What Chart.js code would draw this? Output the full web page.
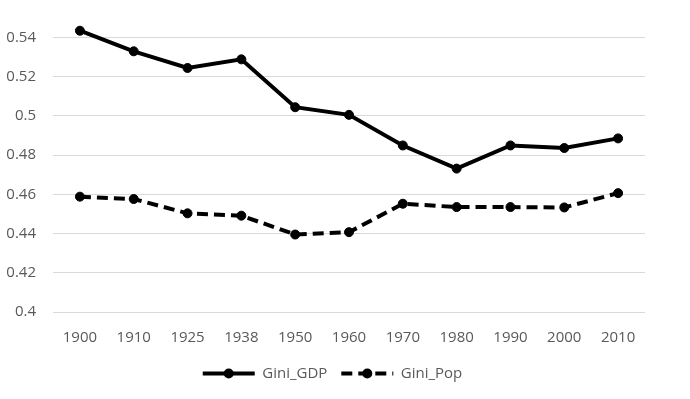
<!DOCTYPE html>
<html>
<head>
<meta charset="utf-8">
<script src="https://cdn.jsdelivr.net/npm/chart.js@4"></script>
<style>
  html, body { margin: 0; padding: 0; background: #fff; }
  #wrap { width: 690px; height: 399px; }
</style>
</head>
<body>
<div id="wrap"><canvas id="canGini"></canvas></div>
<script>
const years = ['1900', '1910', '1925', '1938', '1950', '1960', '1970', '1980', '1990', '2000', '2010']
const giniGdp = [0.5434, 0.5329, 0.5244, 0.5288, 0.5044, 0.5005, 0.4849, 0.4731, 0.4849, 0.4836, 0.4885]
const giniPop = [0.4588, 0.4576, 0.4503, 0.4491, 0.4395, 0.4407, 0.4552, 0.4535, 0.4535, 0.4533, 0.4606]
const yTicks = [0.4, 0.42, 0.44, 0.46, 0.48, 0.5, 0.52, 0.54]

const grey = '#595959'
const font = { family: 'Open Sans', size: 15 }

// legend sits a little left of centre in the original, and each
// legend line carries a round marker
const legendTweaks = {
  id: 'legendTweaks',
  afterLayout (chart) {
    const legend = chart.legend
    if (!legend) return
    legend.left += 10
    legend.right += 10
  },
  afterDraw (chart) {
    const legend = chart.legend
    if (!legend || !legend.legendHitBoxes) return
    const ctx = chart.ctx
    const bw = chart.options.plugins.legend.labels.pointStyleWidth
    ctx.save()
    ctx.fillStyle = '#000'
    legend.legendHitBoxes.forEach(box => {
      ctx.beginPath()
      ctx.arc(box.left + bw / 2, box.top + box.height / 2, 5, 0, Math.PI * 2)
      ctx.fill()
    })
    ctx.restore()
  }
}

new Chart(document.getElementById('canGini'), {
  type: 'line',
  data: {
    labels: years,
    datasets: [
      {
        label: 'Gini_GDP',
        data: giniGdp,
        borderColor: '#000',
        backgroundColor: '#000',
        borderWidth: 4,
        pointRadius: 4.5,
        pointBorderWidth: 1,
        tension: 0
      },
      {
        label: 'Gini_Pop',
        data: giniPop,
        borderColor: '#000',
        backgroundColor: '#000',
        borderWidth: 4,
        borderDash: [11, 6],
        pointRadius: 4.5,
        pointBorderWidth: 1,
        tension: 0
      }
    ]
  },
  options: {
    responsive: true,
    maintainAspectRatio: false,
    animation: false,
    layout: { padding: { left: 0, right: 45, top: 6, bottom: 8 } },
    scales: {
      x: {
        offset: true,
        grid: { display: false, drawTicks: false },
        border: { display: false },
        ticks: { color: grey, font: font, padding: 17, maxRotation: 0 },
        afterFit (scale) { scale.height = 40 }
      },
      y: {
        min: 0.4,
        max: 0.556,
        afterBuildTicks (scale) {
          scale.ticks = yTicks.map(v => ({ value: v }))
        },
        afterFit (scale) {
          scale.width = 53
          scale.paddingTop = 0
          scale.paddingBottom = 0
        },
        grid: { color: '#d9d9d9', lineWidth: 1, drawTicks: false },
        border: { display: false },
        ticks: {
          color: grey,
          font: font,
          padding: 17,
          callback: v => String(Math.round(v * 100) / 100)
        }
      }
    },
    plugins: {
      legend: {
        position: 'bottom',
        labels: {
          color: grey,
          font: font,
          usePointStyle: true,
          pointStyle: 'line',
          pointStyleWidth: 52,
          boxHeight: 14,
          padding: 14,
          generateLabels (chart) {
            const items = Chart.defaults.plugins.legend.labels.generateLabels(chart)
            items.forEach(item => {
              const ds = chart.data.datasets[item.datasetIndex]
              item.lineWidth = ds.borderWidth
              item.lineDash = ds.borderDash || []
              item.strokeStyle = ds.borderColor
            })
            return items
          }
        }
      },
      tooltip: { enabled: false }
    }
  },
  plugins: [legendTweaks]
})
</script>
</body>
</html>
